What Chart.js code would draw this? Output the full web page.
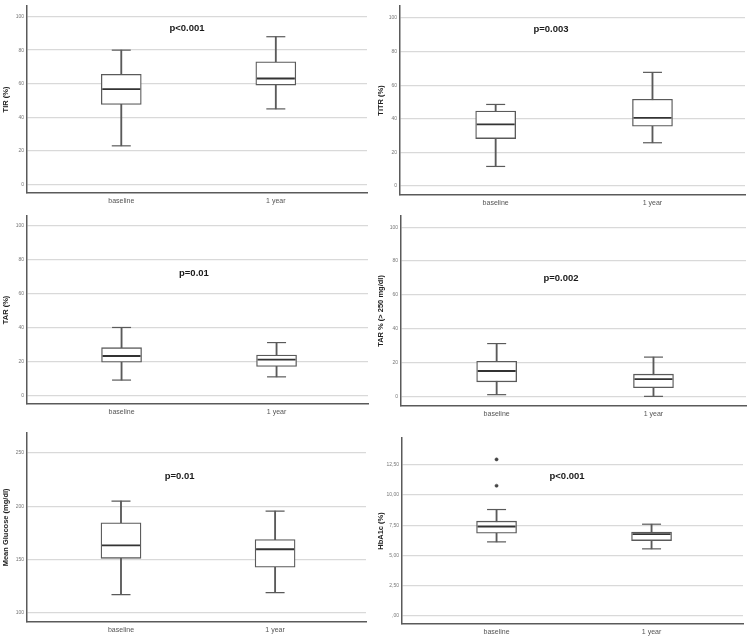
<!DOCTYPE html>
<html lang="en">
<head>
    <meta charset="UTF-8">
    <title>Box plots - baseline vs 1 year</title>
    <script src="https://cdn.jsdelivr.net/npm/chart.js"></script>
    <style>
        body {
            margin: 0;
            background: #fff;
        }

        .panel {
            position: absolute;
            width: 375px;
        }

        .panel canvas {
            width: 100% !important;
            height: 100% !important;
        }
    </style>
</head>
<body>
    <div class="panel" style="left:0;top:0;height:210px"><canvas id="c1"></canvas></div>
    <div class="panel" style="left:375px;top:0;height:210px"><canvas id="c2"></canvas></div>
    <div class="panel" style="left:0;top:210px;height:210px"><canvas id="c3"></canvas></div>
    <div class="panel" style="left:375px;top:210px;height:210px"><canvas id="c4"></canvas></div>
    <div class="panel" style="left:0;top:420px;height:219px"><canvas id="c5"></canvas></div>
    <div class="panel" style="left:375px;top:420px;height:219px"><canvas id="c6"></canvas></div>

    <script>
        // categories on the x axis
        const categories = ['baseline', '1 year'];

        // box plot values: [min, q1, median, q3, max]
        const tirBaseline = [23, 47.7, 56.8, 65.6, 80];
        const tirYear = [45, 59.2, 63.1, 73, 88];
        const titrBaseline = [11.7, 28.3, 36.7, 44.7, 48.6];
        const titrYear = [25.8, 35.7, 40.6, 51.7, 67.7];
        const tarBaseline = [9, 19.5, 23.2, 28.1, 40];
        const tarYear = [10.9, 17, 21.1, 23.8, 31.1];
        const tar250Baseline = [1, 8.6, 15, 20.7, 31.2];
        const tar250Year = [0, 5.1, 10.2, 13.1, 23.2];
        const glucoseBaseline = [117.2, 151.2, 163.4, 184.4, 204.7];
        const glucoseYear = [119.1, 142.8, 159.7, 168.7, 195.3];
        const hba1cBaseline = [6.11, 6.83, 7.39, 7.83, 8.8];
        const hba1cYear = [5.53, 6.22, 6.75, 6.92, 7.58];
        const hba1cOutliers = [12.97, 10.78];

        // tick labels
        const percentTicks = [0, 20, 40, 60, 80, 100];
        const glucoseTicks = [100, 150, 200, 250];
        const hba1cTicks = [0, 2.5, 5, 7.5, 10, 12.5];

        const pValues = ['p<0.001', 'p=0.003', 'p=0.01', 'p=0.002', 'p=0.01', 'p<0.001'];

        const panels = [
            { id: 'c1', title: 'TIR (%)', base: tirBaseline, year: tirYear, outliers: [], ticks: percentTicks,
              yMin: -5.1, yMax: 106.3, pad: { top: 3, right: 8 }, xh: 17, p: pValues[0], px: 1.425, py: 92.7 },
            { id: 'c2', title: 'TITR (%)', base: titrBaseline, year: titrYear, outliers: [], ticks: percentTicks,
              yMin: -5.3, yMax: 107.2, pad: { top: 3, right: 5 }, xh: 15, yw: 25, p: pValues[1], px: 1.353, py: 93.1 },
            { id: 'c3', title: 'TAR (%)', base: tarBaseline, year: tarYear, outliers: [], ticks: percentTicks,
              yMin: -5.1, yMax: 105.7, pad: { top: 5, right: 7 }, xh: 16, p: pValues[2], px: 1.467, py: 71.7 },
            { id: 'c4', title: 'TAR % (> 250 mg/dl)', base: tar250Baseline, year: tar250Year, outliers: [], ticks: percentTicks,
              yMin: -5.7, yMax: 106.6, pad: { top: 4, right: 4 }, xh: 14, yw: 26, p: pValues[3], px: 1.41, py: 69.7 },
            { id: 'c5', title: 'Mean Glucose (mg/dl)', base: glucoseBaseline, year: glucoseYear, outliers: [], ticks: glucoseTicks,
              yMin: 91.6, yMax: 268.75, pad: { top: 12.7, right: 9 }, xh: 17, p: pValues[4], px: 1.38, py: 228.2 },
            { id: 'c6', title: 'HbA1c (%)', base: hba1cBaseline, year: hba1cYear, outliers: hba1cOutliers, ticks: hba1cTicks,
              yMin: -0.72, yMax: 14.75, pad: { top: 18, right: 7 }, xh: 15, comma: true, p: pValues[5], px: 1.455, py: 11.52 }
        ];

        const LINE = '#5a5a5a';

        // p-value text, placed with the chart scales
        const pLabelPlugin = {
            id: 'pLabel',
            afterDraw(chart, args, opts) {
                const ctx = chart.ctx;
                ctx.save();
                ctx.font = 'bold 9.5px "Liberation Sans", Arial, sans-serif';
                ctx.fillStyle = '#1a1a1a';
                ctx.textAlign = 'center';
                ctx.textBaseline = 'middle';
                ctx.fillText(opts.text, chart.scales.x.getPixelForValue(opts.x), chart.scales.y.getPixelForValue(opts.y));
                ctx.restore();
            }
        };

        function createChart(p) {
            const groups = [p.base, p.year];
            const whiskers = groups.map((g, i) => ({ x: i + 1, y: [g[0], g[4]] }));
            const boxes = groups.map((g, i) => ({ x: i + 1, y: [g[1], g[3]] }));
            const caps = [];
            groups.forEach((g, i) => {
                caps.push({ x: i + 1, y: g[0] });
                caps.push({ x: i + 1, y: g[4] });
            });
            const medians = groups.map((g, i) => ({ x: i + 1, y: g[2] }));
            const outliers = p.outliers.map(v => ({ x: 1, y: v }));

            const fmt = v => {
                if (!p.comma) return String(v);
                return v === 0 ? ',00' : v.toFixed(2).replace('.', ',');
            };

            new Chart(document.getElementById(p.id), {
                type: 'bar',
                data: {
                    datasets: [
                        { type: 'bar', data: whiskers, backgroundColor: LINE, barThickness: 1.2,
                          grouped: false, order: 3 },
                        { type: 'bar', data: boxes, backgroundColor: '#fff', borderColor: LINE, borderWidth: 1.3,
                          borderSkipped: false, barThickness: 40, grouped: false, order: 2 },
                        { type: 'line', data: caps, showLine: false, pointStyle: 'line', pointRadius: 9.5,
                          pointBorderWidth: 1.2, pointBorderColor: LINE, order: 1 },
                        { type: 'line', data: medians, showLine: false, pointStyle: 'line', pointRadius: 19,
                          pointBorderWidth: 1.8, pointBorderColor: '#333', order: 0 },
                        { type: 'line', data: outliers, showLine: false, pointStyle: 'circle', pointRadius: 1.6,
                          pointBackgroundColor: '#444', pointBorderColor: '#444', pointBorderWidth: 0.5, order: 0 }
                    ]
                },
                options: {
                    responsive: true,
                    maintainAspectRatio: false,
                    animation: false,
                    layout: {
                        autoPadding: false,
                        padding: { left: 0, top: p.pad.top, right: p.pad.right, bottom: 0 }
                    },
                    plugins: {
                        legend: { display: false },
                        tooltip: { enabled: false },
                        pLabel: { text: p.p, x: p.px, y: p.py }
                    },
                    scales: {
                        x: {
                            type: 'linear',
                            min: 0.39,
                            max: 2.59,
                            offset: false,
                            grid: { display: false, drawTicks: false },
                            border: { display: true, color: LINE, width: 1.5 },
                            afterBuildTicks: s => { s.ticks = [{ value: 1 }, { value: 2 }]; },
                            afterFit: s => { s.height = p.xh; },
                            ticks: {
                                callback: v => categories[v - 1],
                                font: { family: '"Liberation Sans", Arial, sans-serif', size: 7 },
                                color: '#555',
                                padding: 4,
                                maxRotation: 0
                            }
                        },
                        y: {
                            min: p.yMin,
                            max: p.yMax,
                            grid: { color: '#d9d9d9', lineWidth: 1.3, drawTicks: false },
                            border: { display: true, color: LINE, width: 1.5 },
                            afterBuildTicks: s => { s.ticks = p.ticks.map(v => ({ value: v })); },
                            afterFit: s => { s.width = p.yw || 27; },
                            ticks: {
                                callback: v => fmt(v),
                                font: { family: '"Liberation Sans", Arial, sans-serif', size: 5 },
                                color: '#777',
                                padding: 3
                            },
                            title: {
                                display: true,
                                text: p.title,
                                font: { family: '"Liberation Sans", Arial, sans-serif', size: 7.5, weight: 'bold' },
                                color: '#222',
                                padding: { top: 1.5, bottom: 0 }
                            }
                        }
                    }
                },
                plugins: [pLabelPlugin]
            });
        }

        panels.forEach(createChart);
    </script>
</body>
</html>
